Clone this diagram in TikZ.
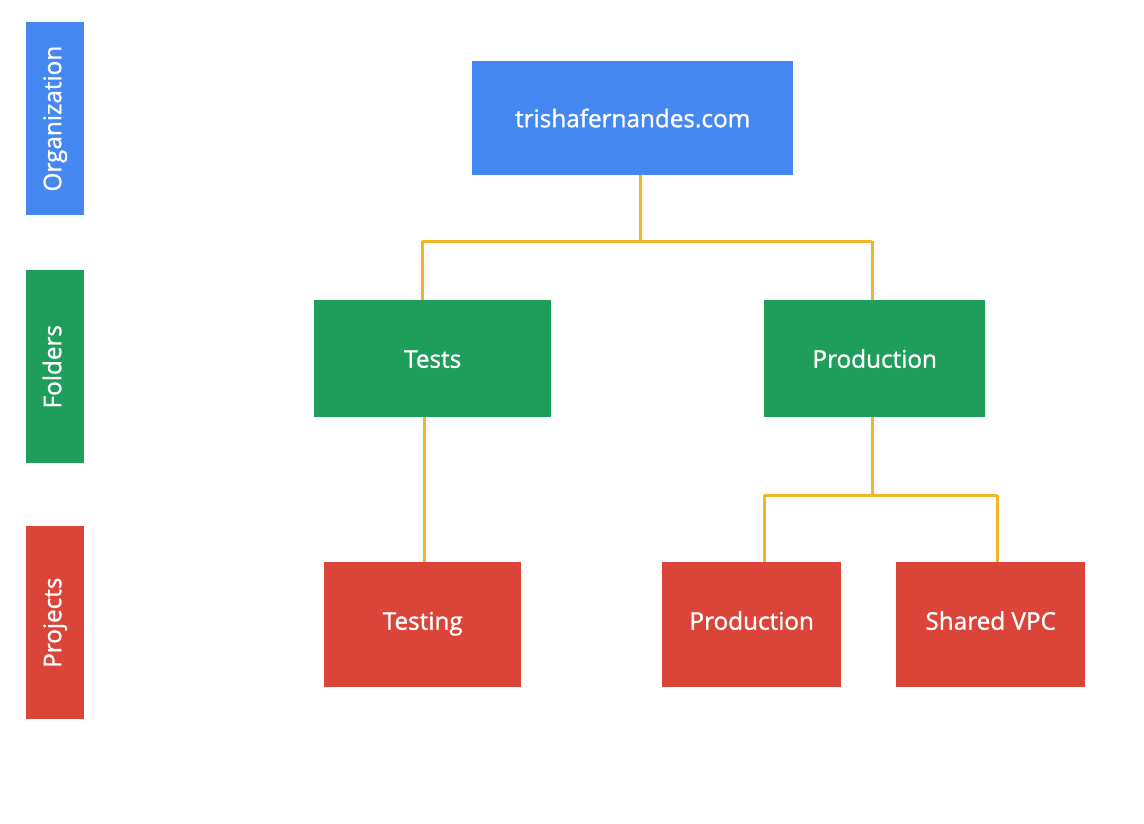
\documentclass[tikz,border=0pt]{standalone}
\usepackage{fontspec}
\setmainfont{Open Sans}
\newfontfamily\boxfont{Open Sans}[FakeBold=1.2]
\definecolor{gblue}{HTML}{4688F1}
\definecolor{ggreen}{HTML}{1E9D5B}
\definecolor{gred}{HTML}{DB4539}
\definecolor{gyellow}{HTML}{F4B42A}
\begin{document}
\begin{tikzpicture}[x=1pt,y=-1pt,
  lbl/.style={text=white,font=\boxfont\fontsize{24.3}{29}\selectfont,text height=20pt,text depth=2pt,inner sep=0pt},
  box/.style={lbl,draw=none,minimum width=#1,anchor=north west},
  projbox/.style={box=#1,fill=gred,minimum height=125pt,text height=16pt,text depth=6pt},
  link/.style={draw=gyellow,line width=3pt}]
\useasboundingbox (0,0) rectangle (1144,824);
\fill[white] (0,0) rectangle (1144,824);
% side bars
\node[box=58pt,fill=gblue,minimum height=193pt] (org) at (26,22) {};
\node[lbl,rotate=90,text height=17pt,text depth=5pt] (orgl) at (org.center) {Organization};
\node[box=58pt,fill=ggreen,minimum height=193pt] (fol) at (26,270) {};
\node[lbl,rotate=90,text height=17pt,text depth=5pt] (foll) at (fol.center) {Folders};
\node[box=58pt,fill=gred,minimum height=193pt] (pro) at (26,526) {};
\node[lbl,rotate=90,text height=17pt,text depth=5pt] (prol) at (pro.center) {Projects};
% main boxes
\node[box=321pt,fill=gblue,minimum height=114pt] (root) at (472,61) {trishafernandes.com};
\node[box=237pt,fill=ggreen,minimum height=117pt] (tests) at (314,300) {Tests};
\node[box=221pt,fill=ggreen,minimum height=117pt] (prodf) at (764,300) {Production};
\node[projbox=197pt] (testing) at (324,562) {Testing};
\node[projbox=179pt] (prodp) at (662,562) {Production};
\node[projbox=189pt] (vpc) at (896,562) {Shared VPC};
% connectors
\coordinate (j1) at (640,241);
\coordinate (j2) at (872,495);
\draw[link] (root.south -| j1) -- (j1);
\draw[link] (422,241) -- (872,241);
\draw[link] (422,241) -- (tests.north -| 422,0);
\draw[link] (872,241) -- (prodf.north -| 872,0);
\draw[link] (tests.south -| 424,0) -- (testing.north -| 424,0);
\draw[link] (prodf.south -| j2) -- (j2);
\draw[link] (764,495) -- (997,495);
\draw[link] (764,495) -- (prodp.north -| 764,0);
\draw[link] (997,495) -- (vpc.north -| 997,0);
\end{tikzpicture}
\end{document}
